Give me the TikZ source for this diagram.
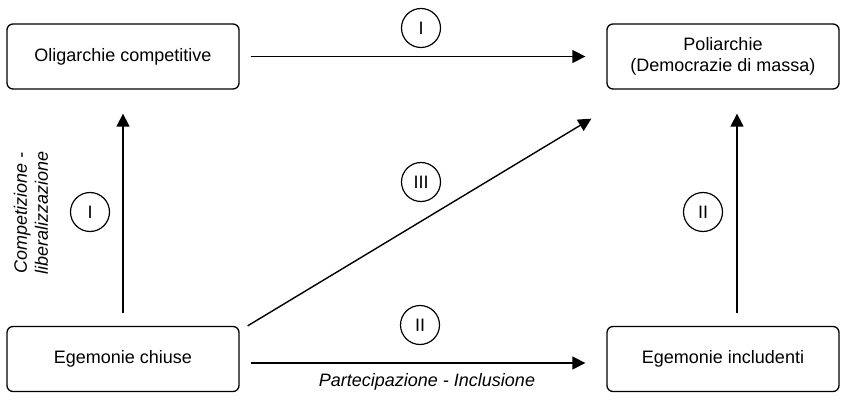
\documentclass[tikz,border=0pt]{standalone}
\usepackage{fontspec}
\setmainfont{Liberation Sans}
\usetikzlibrary{arrows.meta, positioning}

\begin{document}
\begin{tikzpicture}[x=1pt, y=1pt,
    box/.style={draw, line width=1.3pt, rounded corners=6pt, minimum width=232pt, minimum height=65pt, align=center, font=\fontsize{18}{21}\selectfont},
    num/.style={draw, circle, line width=1.2pt, minimum size=39pt, inner sep=0pt, font=\fontsize{18}{21}\selectfont},
    conn/.style={line width=1.4pt, -{Triangle[length=13pt, width=13pt]}},
    lbl/.style={font=\fontsize{18}{21}\selectfont\itshape, align=center}]
    \useasboundingbox (0,0) rectangle (843,402);

    % Boxes
    \node[box] (olig) at (123,345.5) {Oligarchie competitive};
    \node[box] (poli) at (723,345.5) {Poliarchie\\(Democrazie di massa)};
    \node[box] (chiuse) at (123,43) {Egemonie chiuse};
    \node[box] (incl) at (723,43) {Egemonie includenti};

    % Arrows
    \draw[conn, shorten <=11pt, shorten >=21pt] (olig.east) -- (poli.west);
    \draw[conn, shorten <=13pt, shorten >=24pt] (chiuse.north) -- (olig.south);
    \draw[conn, shorten <=13pt, shorten >=24pt] ([xshift=14pt]incl.north) -- ([xshift=14pt]poli.south);
    \draw[conn] ([xshift=8pt]chiuse.north east) -- ([xshift=-15pt, yshift=-29pt]poli.south west);
    \draw[conn, shorten <=11pt, shorten >=21pt] ([yshift=-4pt]chiuse.east) -- ([yshift=-4pt]incl.west);

    % Numbers
    \node[num] (n1) at (421,374) {I};
    \node[num] (n2) at (90,190) {I};
    \node[num] (n3) at (421,220) {III};
    \node[num] (n4) at (420,77) {II};
    \node[num] (n5) at (703,190) {II};

    % Labels
    \node[lbl, rotate=90] (comp) at (31,189) {Competizione -\\liberalizzazione};
    \node[lbl] (part) at (427,20) {Partecipazione - Inclusione};
\end{tikzpicture}
\end{document}
